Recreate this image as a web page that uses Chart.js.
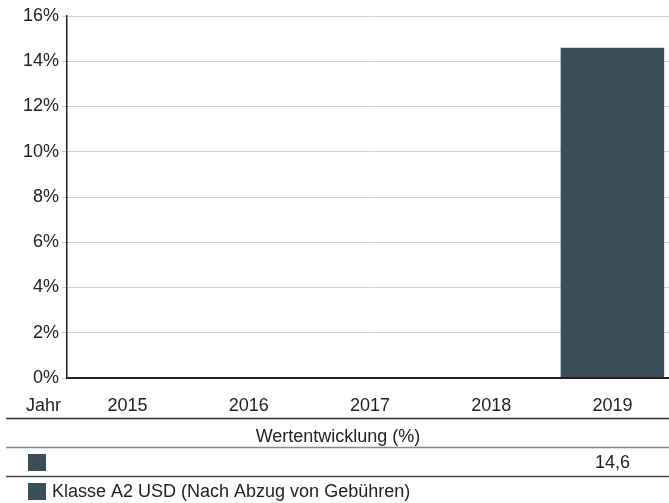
<!DOCTYPE html>
<html>
<head>
<meta charset="utf-8">
<script src="https://cdn.jsdelivr.net/npm/chart.js@4.4.1/dist/chart.umd.min.js"></script>
<style>
  html, body { margin: 0; padding: 0; background: #fff; }
  #wrap { position: relative; width: 669px; height: 503px; overflow: hidden; }
  canvas { display: block; }
</style>
</head>
<body>
<div id="wrap"><canvas id="c" width="673" height="503"></canvas></div>
<script>
const years = ['2015', '2016', '2017', '2018', '2019'];
const performance = [null, null, null, null, 14.6];
const seriesLabel = 'Klasse A2 USD (Nach Abzug von Gebühren)';
const rowHeaderLabel = 'Jahr';
const tableTitle = 'Wertentwicklung (%)';
const yMin = 0, yMax = 16, yStep = 2;

const BAR_COLOR = '#3b4f5a';
const TEXT_COLOR = '#222';
const FONT_FAMILY = '"Liberation Sans", Arial, Helvetica, sans-serif';
const FONT = '18px ' + FONT_FAMILY;

const tablePlugin = {
  id: 'tablePlugin',
  afterDatasetsDraw(chart) {
    const ctx = chart.ctx;
    const a = chart.chartArea;
    ctx.save();
    ctx.strokeStyle = '#222';
    ctx.lineWidth = 2;
    ctx.beginPath();
    ctx.moveTo(a.left - 1, a.bottom);
    ctx.lineTo(669, a.bottom);
    ctx.stroke();
    ctx.restore();
  },
  afterDraw(chart) {
    const ctx = chart.ctx;
    const x = chart.scales.x;
    ctx.save();
    ctx.font = FONT;
    ctx.fillStyle = TEXT_COLOR;
    ctx.textBaseline = 'middle';
    ctx.textAlign = 'left';
    ctx.fillText(rowHeaderLabel, 26, 406);
    ctx.textAlign = 'center';
    years.forEach((y, i) => ctx.fillText(y, x.getPixelForValue(i), 406));
    const hline = (y, color) => {
      ctx.strokeStyle = color;
      ctx.lineWidth = 1.5;
      ctx.beginPath();
      ctx.moveTo(6, y);
      ctx.lineTo(669, y);
      ctx.stroke();
    };
    hline(418.5, '#333');
    ctx.fillText(tableTitle, 338, 437.5);
    hline(447.5, '#888');
    ctx.fillStyle = BAR_COLOR;
    ctx.fillRect(28, 454, 18, 17);
    ctx.fillStyle = TEXT_COLOR;
    performance.forEach((v, i) => {
      if (v !== null) {
        ctx.fillText(v.toFixed(1).replace('.', ','), x.getPixelForValue(i), 463.5);
      }
    });
    hline(476.5, '#444');
    ctx.fillStyle = BAR_COLOR;
    ctx.fillRect(28, 483, 18, 17);
    ctx.fillStyle = TEXT_COLOR;
    ctx.textAlign = 'left';
    ctx.fillText(seriesLabel, 52, 492.5);
    ctx.restore();
  }
};

new Chart(document.getElementById('c'), {
  type: 'bar',
  data: {
    labels: years,
    datasets: [{
      label: seriesLabel,
      data: performance,
      backgroundColor: BAR_COLOR,
      borderWidth: 0,
      barPercentage: 0.854,
      categoryPercentage: 1
    }]
  },
  options: {
    responsive: false,
    animation: false,
    devicePixelRatio: 1,
    layout: { padding: { top: 16, left: 0, right: 0, bottom: 0 } },
    plugins: { legend: { display: false }, tooltip: { enabled: false } },
    scales: {
      x: {
        grid: { display: false },
        border: { display: false },
        ticks: { display: false },
        afterFit: s => { s.height = 125; }
      },
      y: {
        min: yMin,
        max: yMax,
        ticks: {
          stepSize: yStep,
          callback: v => v + '%',
          font: { family: FONT_FAMILY, size: 18 },
          color: TEXT_COLOR,
          padding: 3
        },
        grid: { color: '#cfcfcf', lineWidth: 1, tickLength: 5 },
        border: { display: true, color: '#222', width: 1.5 },
        afterFit: s => { s.width = 67; }
      }
    }
  },
  plugins: [tablePlugin]
});
</script>
</body>
</html>
